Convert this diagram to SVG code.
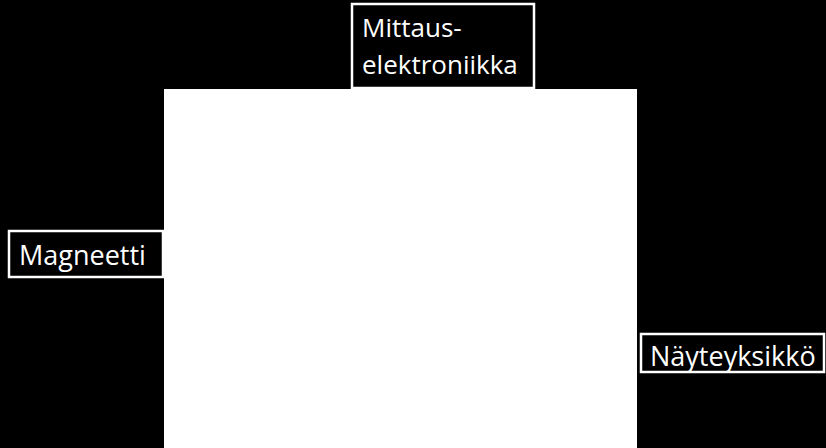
<svg xmlns="http://www.w3.org/2000/svg" width="826" height="448" viewBox="0 0 826 448">
<style>
.lbl{fill:#000;stroke:#fff;stroke-width:2.5}
.t{fill:#fff;font-family:"Open Sans","Noto Sans",sans-serif;font-size:26px}
.b{font-size:27px}
</style>
<rect x="0" y="0" width="826" height="448" fill="#000"/>
<g id="main"><rect x="164" y="89" width="473" height="359" fill="#fff"/></g>
<g id="connectors"></g>
<g id="mittaus">
<rect class="lbl" x="352" y="4" width="182" height="84"/>
<text class="t" x="362" y="37">Mittaus-</text>
<text class="t" x="362" y="74">elektroniikka</text>
</g>
<g id="magneetti">
<rect class="lbl" x="9" y="231" width="154" height="46"/>
<text class="t b" x="19" y="265">Magneetti</text>
</g>
<g id="nayteyksikko">
<rect class="lbl" x="641" y="334" width="183" height="38"/>
<text class="t b" x="650" y="366">Näyteyksikkö</text>
</g>
</svg>
